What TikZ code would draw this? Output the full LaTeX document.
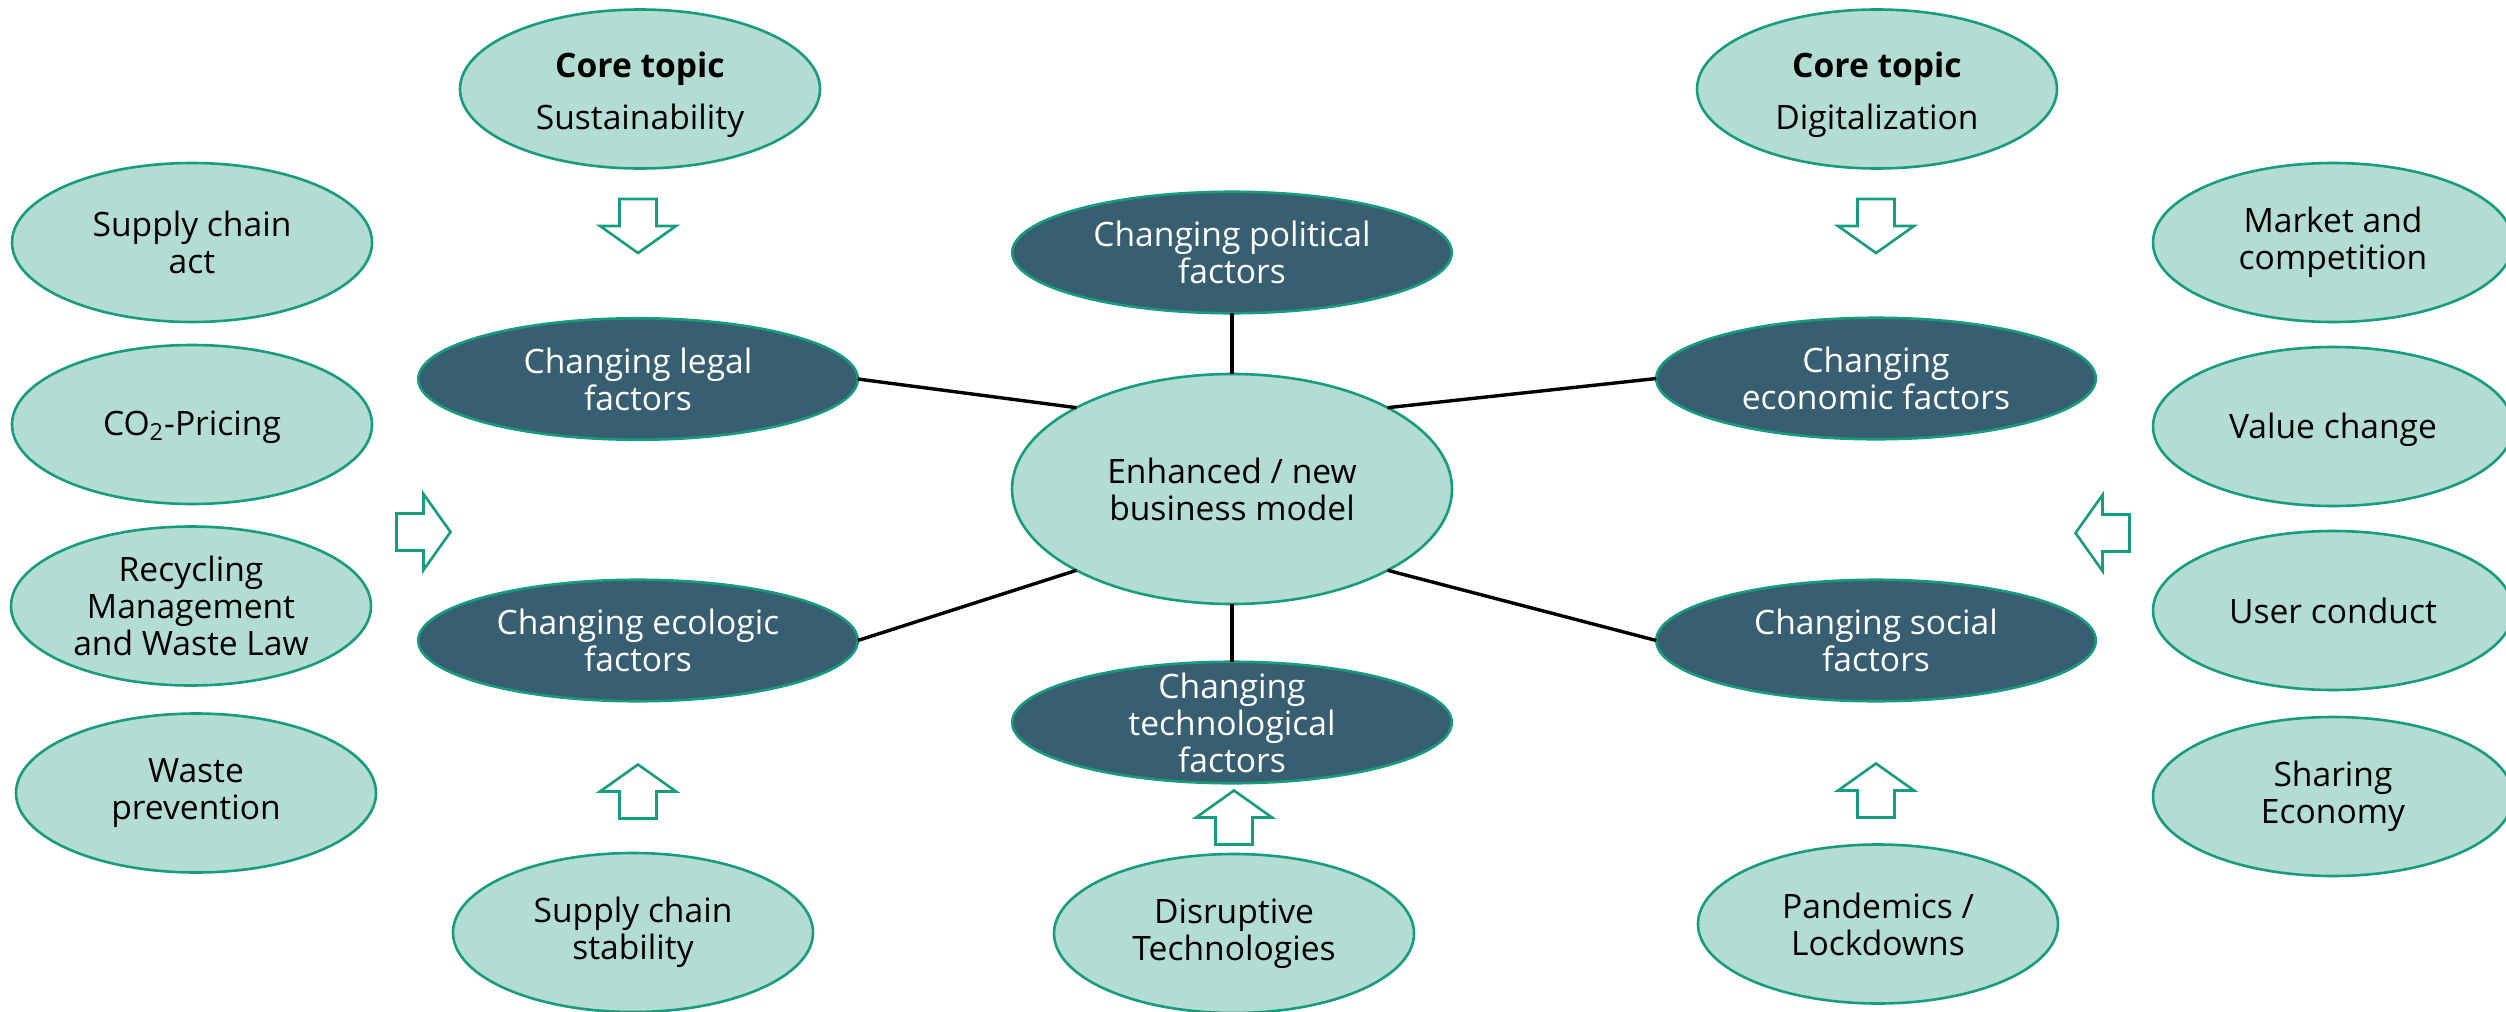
\documentclass[tikz,border=0pt]{standalone}
\usepackage{fontspec}
\setmainfont{Open Sans}
\usetikzlibrary{shapes.geometric}
\definecolor{fhgreen}{HTML}{179C7D}
\definecolor{lightfill}{HTML}{B3DCD3}
\definecolor{darkfill}{HTML}{385E72}

\begin{document}
\begin{tikzpicture}[x=0.5pt,y=-0.5pt,
  ellbase/.style={ellipse, draw=fhgreen, line width=1.3pt, inner sep=0pt, outer sep=0pt},
  lightell/.style={ellbase, fill=lightfill, minimum width=180pt, minimum height=79.5pt},
  darkell/.style={ellbase, fill=darkfill, minimum width=219.75pt, minimum height=60.75pt},
  hubell/.style={ellbase, fill=lightfill, minimum width=220pt, minimum height=115pt},
  lbl/.style={align=center, inner sep=0pt, font=\fontsize{16.8}{18.5}\selectfont, text=black},
  darklbl/.style={lbl, text=white},
  link/.style={line width=1.7pt, draw=black},
  blockarrow/.pic={\draw[line width=1.3pt, draw=fhgreen, fill=white, line join=miter]
      (-27,-18.5) -- (0,-18.5) -- (0,-38) -- (27,0) -- (0,38) -- (0,18.5) -- (-27,18.5) -- cycle;}
]
\useasboundingbox (0,0) rectangle (2506,1012);

% hub
\node[hubell] (hub) at (1232,489) {};
\node[lbl] (hub-t) at (hub) {Enhanced / new\\business model};

% factor ellipses
\node[darkell] (legal) at (638,379) {};
\node[darklbl] (legal-t) at (legal) {Changing legal\\factors};
\node[darkell] (eco) at (638,640.5) {};
\node[darklbl] (eco-t) at (eco) {Changing ecologic\\factors};
\node[darkell] (pol) at (1232,252.5) {};
\node[darklbl] (pol-t) at (pol) {Changing political\\factors};
\node[darkell] (tech) at (1232,722.5) {};
\node[darklbl] (tech-t) at (tech) {Changing\\technological\\factors};
\node[darkell] (econ) at (1876,378.5) {};
\node[darklbl] (econ-t) at (econ) {Changing\\economic factors};
\node[darkell] (soc) at (1876,640.5) {};
\node[darklbl] (soc-t) at (soc) {Changing social\\factors};

% spokes
\draw[link] (legal.east) -- (hub.north west);
\draw[link] (eco.east) -- (hub.south west);
\draw[link] (pol.south) -- (hub.north);
\draw[link] (tech.north) -- (hub.south);
\draw[link] (econ.west) -- (hub.north east);
\draw[link] (soc.west) -- (hub.south east);

% core topics
\node[lightell] (sust) at (640,89) {};
\node[lbl] (sust-t) at ([yshift=-3pt]sust.center) {\textbf{Core topic}\\[7.5pt]Sustainability};
\node[lightell] (digi) at (1877,89) {};
\node[lbl] (digi-t) at ([yshift=-3pt]digi.center) {\textbf{Core topic}\\[7.5pt]Digitalization};

% left column
\node[lightell] (act) at (192,242.5) {};
\node[lbl] (act-t) at (act) {Supply chain\\act};
\node[lightell] (co2) at (192,424.5) {};
\node[lbl] (co2-t) at ([yshift=-1.5pt]co2.center) {CO\textsubscript{2}-Pricing};
\node[lightell] (recy) at (191,606) {};
\node[lbl] (recy-t) at (recy) {Recycling\\Management\\and Waste Law};
\node[lightell] (waste) at (196,793) {};
\node[lbl] (waste-t) at (waste) {Waste\\prevention};

% right column
\node[lightell] (market) at (2333,242.5) {};
\node[lbl] (market-t) at (market) {Market and\\competition};
\node[lightell] (value) at (2333,426.5) {};
\node[lbl] (value-t) at ([yshift=-1.5pt]value.center) {Value change};
\node[lightell] (user) at (2333,610.5) {};
\node[lbl] (user-t) at (user) {User conduct};
\node[lightell] (share) at (2333,796.5) {};
\node[lbl] (share-t) at (share) {Sharing\\Economy};

% bottom row
\node[lightell] (stab) at (633,932.5) {};
\node[lbl] (stab-t) at (stab) {Supply chain\\stability};
\node[lightell] (disr) at (1234,933.5) {};
\node[lbl] (disr-t) at (disr) {Disruptive\\Technologies};
\node[lightell] (pand) at (1878,924) {};
\node[lbl] (pand-t) at (pand) {Pandemics /\\Lockdowns};

% influence arrows
\pic[rotate=-90] at (638,226) {blockarrow};
\pic[rotate=-90] at (1876,226) {blockarrow};
\pic at (423.5,532) {blockarrow};
\pic[rotate=180] at (2102.5,533) {blockarrow};
\pic[rotate=90] at (638,791.5) {blockarrow};
\pic[rotate=90] at (1234,817.5) {blockarrow};
\pic[rotate=90] at (1876,790.5) {blockarrow};
\end{tikzpicture}
\end{document}
